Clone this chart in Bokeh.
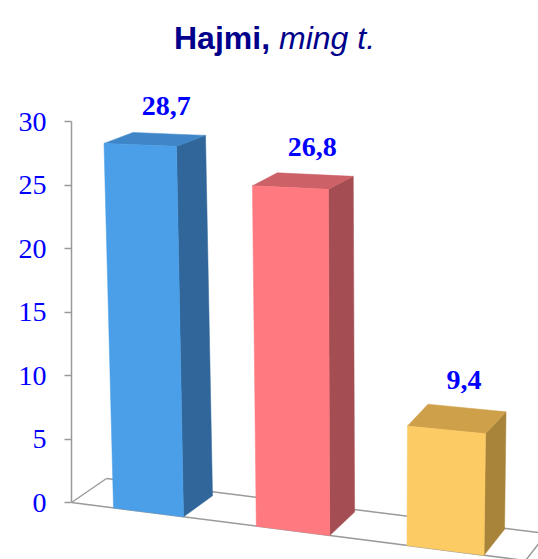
from bokeh.plotting import figure
from bokeh.models import Range1d, FixedTicker
from bokeh.embed import file_html
from bokeh.resources import INLINE
from bokeh.core.properties import value

# ---- data ----
title_bold = "Hajmi,"
title_italic = "ming t."
values = [28.7, 26.8, 9.4]
value_labels = ["28,7", "26,8", "9,4"]
y_ticks = [0, 5, 10, 15, 20, 25, 30]

# ---- styles ----
front_colors = ["#4A9FE8", "#FF7A80", "#FCCB63"]
side_colors = ["#306699", "#A44E54", "#A8843A"]
top_colors = ["#3E86C8", "#CC6167", "#CFA04A"]
TITLE_COLOR = "#00008B"
LABEL_COLOR = "#0000FF"
FLOOR_COLOR = "#9a9a9a"

# ---- pseudo-3D projection constants (pixel space of the canvas) ----
AX = 71.0          # x of value axis / floor front-left corner
Y0 = 502.0         # pixel row of value 0 at the axis
PX = 12.7          # pixels per value unit
FLOOR_SLOPE = 0.128
VPX, VPD = 366.0, 9700.0
C0, STEP, GROW = 148.0, 144.5, 4.0
W0, PSCALE = 70.0, 0.00034

W, H = 538, 559
LEFT = int(AX)


def to_v(y_px):
    return (Y0 - y_px) / PX


def floor_y(x):
    return Y0 + FLOOR_SLOPE * (x - AX)


def lean(x, h):
    return x + (x - VPX) * h / VPD


def depth(cx, v):
    dx = 29 - 0.0285 * (cx - 148)
    dyb = -21 - 0.0168 * (cx - 148)
    dyt = dyb * (1 - 0.5 * v / 30)
    return dx, dyb, dyt


p = figure(width=W, height=H, output_backend="svg", toolbar_location=None,
           x_range=Range1d(AX, AX + (W - LEFT)),
           y_range=Range1d(to_v(H), to_v(0)),
           x_axis_type=None, title=None,
           min_border_left=LEFT, min_border_right=0,
           min_border_top=0, min_border_bottom=0)
p.grid.visible = False
p.outline_line_color = None
p.background_fill_color = "white"
p.border_fill_color = "white"

ax = p.yaxis[0]
ax.ticker = FixedTicker(ticks=y_ticks)
ax.bounds = (min(y_ticks), max(y_ticks))
ax.axis_line_color = FLOOR_COLOR
ax.axis_line_width = 1.5
ax.major_tick_line_color = FLOOR_COLOR
ax.major_tick_line_width = 1.5
ax.major_tick_out = 7
ax.major_tick_in = 0
ax.minor_tick_line_color = None
ax.major_label_standoff = 18
ax.major_label_text_font = "Liberation Serif"
ax.major_label_text_font_size = "28px"
ax.major_label_text_color = LABEL_COLOR

# ---- floor ----
fl_x = AX
fr_x = 525.0
dfl = (35.0, -24.0)
dfr = (21.0, -27.0)
FL = (fl_x, floor_y(fl_x))
FR = (fr_x, floor_y(fr_x))
BL = (FL[0] + dfl[0], FL[1] + dfl[1])
BR = (FR[0] + dfr[0], FR[1] + dfr[1])
p.patch([FL[0], FR[0], BR[0], BL[0]], [to_v(FL[1]), to_v(FR[1]), to_v(BR[1]), to_v(BL[1])],
        fill_color="white", line_color=None)
for a, b in [(FL, FR), (FL, BL), (BL, BR), (FR, BR)]:
    p.line([a[0], b[0]], [to_v(a[1]), to_v(b[1])], line_color=FLOOR_COLOR, line_width=1.5)

# ---- bars ----
lab_x, lab_y = [], []
for i, v in enumerate(values):
    cx = C0 + STEP * i + GROW * i * (i - 1)
    w = W0 * (1 + PSCALE * (cx - C0))
    xl, xr = cx - w / 2, cx + w / 2
    ybl, ybr = floor_y(xl), floor_y(xr)
    h = v * PX
    slope_t = FLOOR_SLOPE * (1 - 0.7 * v / 30)
    ytl = ybl - h
    ytr = ytl + slope_t * w
    xtl = lean(xl, h)
    xtr = lean(xr, ybr - ytr)
    dx, dyb, dyt = depth(cx, v)
    front = [(xl, ybl), (xr, ybr), (xtr, ytr), (xtl, ytl)]
    side = [(xr, ybr), (xr + dx, ybr + dyb), (xtr + dx, ytr + dyt), (xtr, ytr)]
    top = [(xtl, ytl), (xtr, ytr), (xtr + dx, ytr + dyt), (xtl + dx, ytl + dyt)]
    for face, col in [(side, side_colors[i]), (top, top_colors[i]), (front, front_colors[i])]:
        p.patch([q[0] for q in face], [to_v(q[1]) for q in face], fill_color=col,
                line_color=col, line_width=0.5)
    lab_x.append((xtl + xtr) / 2 + dx - 3)
    lab_y.append(to_v((ytl + ytr) / 2 + dyt - 28))

p.text(x=lab_x, y=lab_y, text=value_labels, text_font=value("Liberation Serif"),
       text_font_style="bold", text_font_size="28px", text_color=LABEL_COLOR,
       text_align="center", text_baseline="middle")

# ---- title (bold part + italic part) ----
TITLE_X, TITLE_BASE = 173.5, 37.8
p.text(x=[TITLE_X], y=[to_v(TITLE_BASE)], text=[title_bold], text_font=value("Liberation Sans"),
       text_font_style="bold", text_font_size="32px", text_color=TITLE_COLOR,
       text_align="left", text_baseline="alphabetic")
p.text(x=[TITLE_X + 105], y=[to_v(TITLE_BASE)], text=[title_italic], text_font=value("Liberation Sans"),
       text_font_style="italic", text_font_size="32px", text_color=TITLE_COLOR,
       text_align="left", text_baseline="alphabetic")

open("out.html", "w").write(file_html(p, INLINE))
